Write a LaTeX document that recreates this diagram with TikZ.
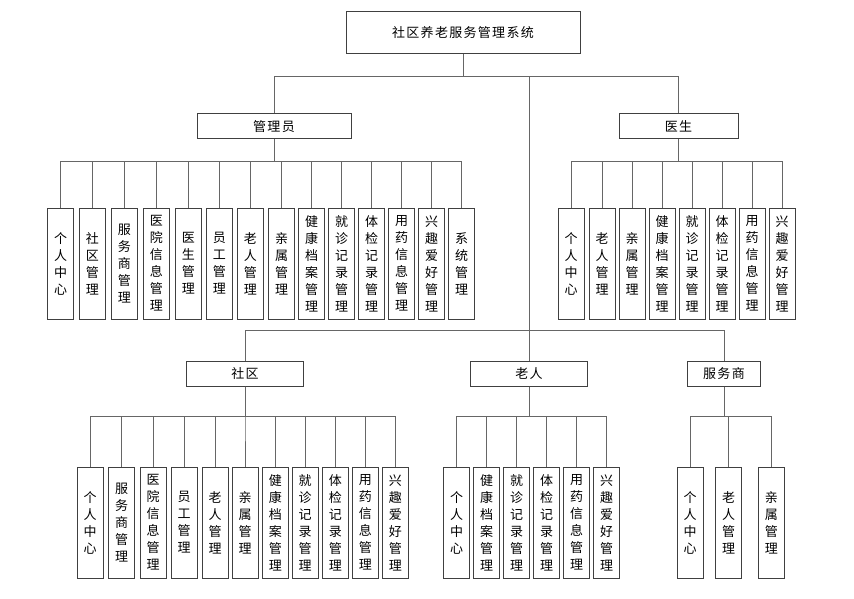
\documentclass[tikz,border=0pt]{standalone}
\usepackage{fontspec}
\setmainfont{Noto Sans CJK SC}
\newfontfamily\widecjk[LetterSpace=10]{Noto Sans CJK SC}
\XeTeXlinebreaklocale "zh"
\XeTeXlinebreakskip=0pt plus 1pt
\tikzset{
    box/.style={draw=black!75,line width=1pt,minimum height=25pt,inner sep=0pt,
        font=\widecjk\fontsize{13}{15}\selectfont},
    leaf/.style={draw=black!75,line width=1pt,minimum width=26pt,minimum height=111pt,
        inner sep=0pt,text width=16pt,align=center,font=\fontsize{13}{17}\selectfont},
    link/.style={draw=black!60,line width=1pt}
}
\begin{document}
\begin{tikzpicture}[x=1pt,y=-1pt]
        \useasboundingbox (0,0) rectangle (854,599);
        % top level
        \node[box,minimum width=234pt,minimum height=42pt] (root) at (463,33) {社区养老服务管理系统};
        \node[box,minimum width=154pt] (admin) at (274,126.5) {管理员};
        \node[box,minimum width=119pt] (doctor) at (678.5,126.5) {医生};
        \node[box,minimum width=117pt] (comm) at (245,373.5) {社区};
        \node[box,minimum width=117pt] (elder) at (529,373.5) {老人};
        \node[box,minimum width=73pt] (prov) at (724,373.5) {服务商};
        \draw[link] (root.south) -- ++(0,22) -| (admin.north);
        \draw[link] (root.south) -- ++(0,22) -| (doctor.north);
        \draw[link] (root.south) -- ++(0,22) -| (elder.north);
        \draw[link] (elder.north) ++(0,-30) -| (comm.north);
        \draw[link] (elder.north) ++(0,-30) -| (prov.north);
        % admin
        \node[leaf] (a1) at (60.7,263.5) {个人中心};
        \node[leaf] (a2) at (92.3,263.5) {社区管理};
        \node[leaf] (a3) at (124.3,263.5) {服务商管理};
        \node[leaf] (a4) at (156.3,263.5) {医院信息管理};
        \node[leaf] (a5) at (188.3,263.5) {医生管理};
        \node[leaf] (a6) at (219.3,263.5) {员工管理};
        \node[leaf] (a7) at (250.3,263.5) {老人管理};
        \node[leaf] (a8) at (281.7,263.5) {亲属管理};
        \node[leaf] (a9) at (311.5,263.5) {健康档案管理};
        \node[leaf] (a10) at (341.5,263.5) {就诊记录管理};
        \node[leaf] (a11) at (371.5,263.5) {体检记录管理};
        \node[leaf] (a12) at (401.5,263.5) {用药信息管理};
        \node[leaf] (a13) at (431.5,263.5) {兴趣爱好管理};
        \node[leaf] (a14) at (461.5,263.5) {系统管理};
        \foreach \n in {a1,a2,a3,a4,a5,a6,a7,a8,a9,a10,a11,a12,a13,a14}
            \draw[link] (admin.south) -- ++(0,22) -| (\n.north);
        % doctor
        \node[leaf] (d1) at (571,263.5) {个人中心};
        \node[leaf] (d2) at (602,263.5) {老人管理};
        \node[leaf] (d3) at (632,263.5) {亲属管理};
        \node[leaf] (d4) at (662,263.5) {健康档案管理};
        \node[leaf] (d5) at (692,263.5) {就诊记录管理};
        \node[leaf] (d6) at (722,263.5) {体检记录管理};
        \node[leaf] (d7) at (752,263.5) {用药信息管理};
        \node[leaf] (d8) at (782,263.5) {兴趣爱好管理};
        \foreach \n in {d1,d2,d3,d4,d5,d6,d7,d8}
            \draw[link] (doctor.south) -- ++(0,22) -| (\n.north);
        % community
        \node[leaf] (c1) at (90,522.5) {个人中心};
        \node[leaf] (c2) at (121.7,522.5) {服务商管理};
        \node[leaf] (c3) at (153,522.5) {医院信息管理};
        \node[leaf] (c4) at (184,522.5) {员工管理};
        \node[leaf] (c5) at (215,522.5) {老人管理};
        \node[leaf] (c6) at (245,522.5) {亲属管理};
        \node[leaf] (c7) at (275.3,522.5) {健康档案管理};
        \node[leaf] (c8) at (305,522.5) {就诊记录管理};
        \node[leaf] (c9) at (335.3,522.5) {体检记录管理};
        \node[leaf] (c10) at (365.3,522.5) {用药信息管理};
        \node[leaf] (c11) at (395.3,522.5) {兴趣爱好管理};
        \foreach \n in {c1,c2,c3,c4,c5,c6,c7,c8,c9,c10,c11}
            \draw[link] (comm.south) -- ++(0,30) -| (\n.north);
        % elder
        \node[leaf] (e1) at (456.7,522.5) {个人中心};
        \node[leaf] (e2) at (486.7,522.5) {健康档案管理};
        \node[leaf] (e3) at (516.7,522.5) {就诊记录管理};
        \node[leaf] (e4) at (546.7,522.5) {体检记录管理};
        \node[leaf] (e5) at (576.7,522.5) {用药信息管理};
        \node[leaf] (e6) at (606.7,522.5) {兴趣爱好管理};
        \foreach \n in {e1,e2,e3,e4,e5,e6}
            \draw[link] (elder.south) -- ++(0,30) -| (\n.north);
        % provider
        \node[leaf] (p1) at (690,522.5) {个人中心};
        \node[leaf] (p2) at (728.7,522.5) {老人管理};
        \node[leaf] (p3) at (771.3,522.5) {亲属管理};
        \foreach \n in {p1,p2,p3}
            \draw[link] (prov.south) -- ++(0,30) -| (\n.north);
    \end{tikzpicture}
\end{document}
